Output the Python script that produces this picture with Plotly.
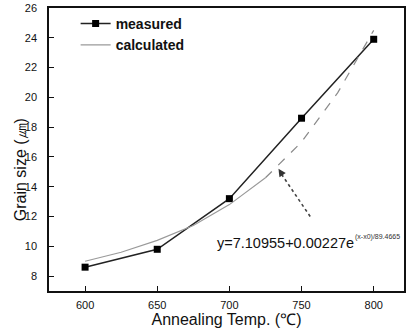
import plotly.graph_objects as go

# Data
temps = [600, 650, 700, 750, 800]
measured = [8.6, 9.8, 13.2, 18.6, 23.9]

calc_temps = [600, 625, 650, 675, 700, 725, 750, 775, 800]
calculated = [9.0, 9.6, 10.4, 11.4, 12.8, 14.6, 17.0, 20.3, 24.5]

x_ticks = [600, 650, 700, 750, 800]
y_ticks = [8, 10, 12, 14, 16, 18, 20, 22, 24, 26]

equation_main = "y=7.10955+0.00227e"
equation_sup = "(x-x0)/89.4665"

FONT = "Liberation Sans, Arial, sans-serif"
split = 5  # solid part / dashed part of the calculated curve

fig = go.Figure()
fig.add_trace(go.Scatter(
    x=temps, y=measured, mode="lines+markers", name="measured",
    line=dict(color="#222222", width=1.5),
    marker=dict(symbol="square", size=7, color="#000000"),
))
fig.add_trace(go.Scatter(
    x=calc_temps[:split + 1], y=calculated[:split + 1], mode="lines", name="calculated",
    line=dict(color="#9a9a9a", width=1.2),
))
fig.add_trace(go.Scatter(
    x=calc_temps[split:], y=calculated[split:], mode="lines", name="calculated",
    showlegend=False,
    line=dict(color="#8a8a8a", width=1.2, dash="dash"),
))

fig.update_layout(
    width=407, height=332,
    margin=dict(l=49, r=3, t=8, b=41, autoexpand=False),
    paper_bgcolor="white", plot_bgcolor="white",
    font=dict(family=FONT, color="#111111"),
    showlegend=True,
    legend=dict(
        x=0.075, y=1.0, xanchor="left", yanchor="top",
        bgcolor="rgba(0,0,0,0)", borderwidth=0,
        font=dict(size=14, family="Liberation Sans, Arial, sans-serif", weight="bold", color="#111111"),
        tracegroupgap=0,
    ),
    xaxis=dict(
        range=[575, 821], tickvals=x_ticks, automargin=False,
        ticks="inside", ticklen=5, tickwidth=1.2, tickcolor="#111",
        showline=True, linecolor="#111", linewidth=1.5, mirror=True,
        showgrid=False, zeroline=False,
        tickfont=dict(size=11, family=FONT, color="#111"),
        ticklabelstandoff=3,
        title=dict(text="Annealing Temp. (℃)", font=dict(size=16, family=FONT, color="#111"), standoff=2),
    ),
    yaxis=dict(
        range=[7, 26], tickvals=y_ticks, automargin=False,
        ticks="inside", ticklen=5, tickwidth=1.2, tickcolor="#111",
        showline=True, linecolor="#111", linewidth=1.5, mirror=True,
        showgrid=False, zeroline=False,
        tickfont=dict(size=11, family=FONT, color="#111"),
        ticklabelstandoff=8,
    ),
)

# y-axis title (placed slightly below centre as in reference)
fig.add_annotation(
    text="Grain size (㎛)", xref="paper", yref="paper",
    x=-0.082, y=0.43, xanchor="center", yanchor="middle",
    textangle=-90, showarrow=False,
    font=dict(size=16, family=FONT, color="#111"),
)

# dotted pointer line and arrow head
fig.add_shape(type="line", x0=756, y0=12.0, x1=735, y1=15.0,
              xref="x", yref="y", line=dict(color="#444", width=1.6, dash="dot"))
fig.add_annotation(x=734, y=15.2, xref="x", yref="y", text="", showarrow=True,
                   ax=4, ay=6, arrowhead=2, arrowsize=1, arrowwidth=1.5, arrowcolor="#333")

# equation text
fig.add_annotation(
    text=equation_main, xref="x", yref="y", x=690, y=10.2,
    xanchor="left", yanchor="middle", showarrow=False,
    font=dict(size=14.5, family=FONT, color="#111"),
)
fig.add_annotation(
    text=equation_sup, xref="paper", yref="paper", x=0.855, y=0.19,
    xanchor="left", yanchor="middle", showarrow=False,
    font=dict(size=7, family=FONT, color="#333"),
)

fig.write_html("out.html", config={"displayModeBar": False},
               post_script="document.body.style.margin='0';document.body.style.padding='0';")
